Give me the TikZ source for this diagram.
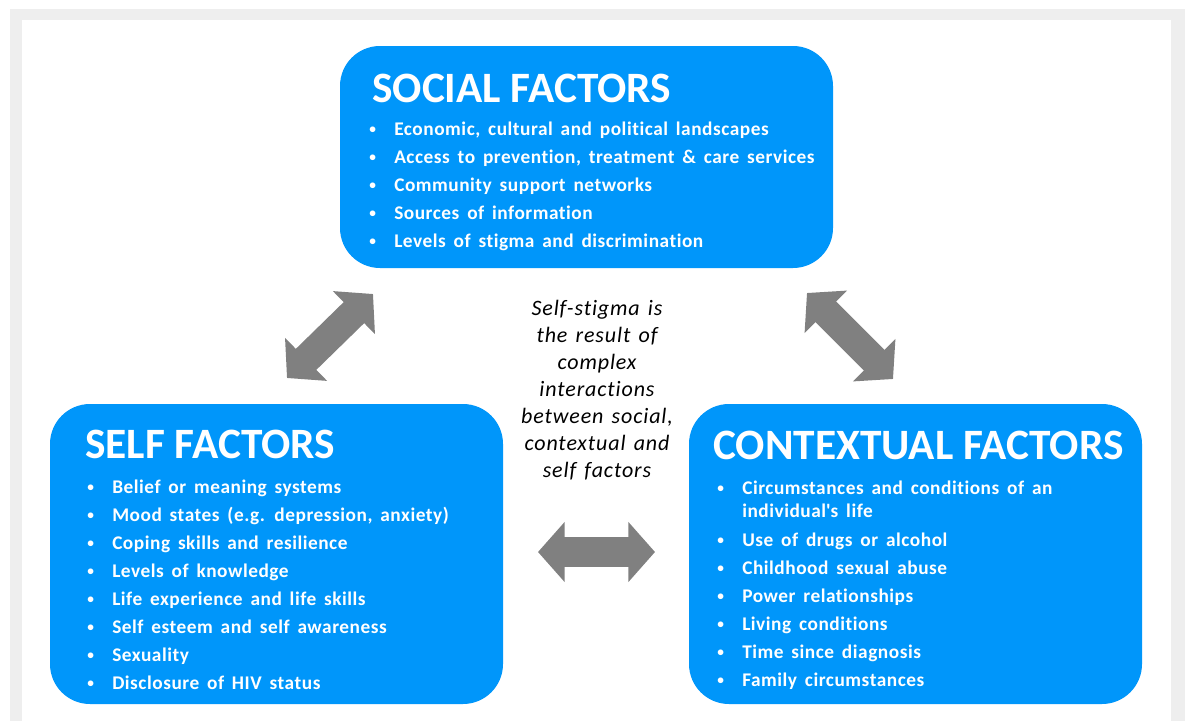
\documentclass[tikz,border=0pt]{standalone}
\usepackage{fontspec}
\setmainfont{Carlito}[Ligatures=NoCommon]
\newfontfamily\listfont{Carlito}[Ligatures=NoCommon, LetterSpace=2.7, WordSpace=1.6]
\newfontfamily\notefont{Carlito}[Ligatures=NoCommon, LetterSpace=4, WordSpace=1.4]
\usetikzlibrary{arrows.meta,positioning}

\definecolor{factorblue}{RGB}{0,150,250}
\definecolor{arrowgray}{RGB}{128,128,128}
\definecolor{framegray}{RGB}{238,238,238}
\newcommand{\bul}{\makebox[18.75pt][l]{\raisebox{0.9pt}{\fontsize{10}{10}\selectfont\textbullet}}}

\begin{document}
\begin{tikzpicture}[
            x=0.75pt, y=-0.75pt,
            >={Triangle[width=44pt,length=20pt]},
            factorbox/.style={rectangle, rounded corners=30pt, fill=factorblue, inner sep=0pt},
            heading/.style={anchor=base west, inner sep=0pt, text=white, font=\fontsize{32.5}{32.5}\selectfont\bfseries},
            item/.style={anchor=base west, inner sep=0pt, text=white, font=\listfont\fontsize{14.5}{16}\selectfont\bfseries},
            note/.style={align=center, inner sep=0pt, font=\notefont\fontsize{16.5}{20.25}\selectfont\itshape},
            twoway/.style={<->, arrowgray, line width=22pt}
        ]
        \useasboundingbox (0,0) rectangle (1185,721);

        % Frame
        \fill[framegray] (10,9) rectangle (1185,721);
        \fill[white] (22,20) rectangle (1171,721);

        % Boxes
        \node[factorbox, minimum width=369.75pt, minimum height=166.5pt] (social) at (586.5,157) {};
        \node[factorbox, minimum width=339.75pt, minimum height=225pt] (self) at (276.5,554) {};
        \node[factorbox, minimum width=339.75pt, minimum height=225pt] (context) at (915.5,554) {};

        % Headings
        \node[heading] (social-title) at (372,102) {SOCIAL FACTORS};
        \node[heading] (self-title) at (85,458) {SELF FACTORS};
        \node[heading] (context-title) at (713,459) {CONTEXTUAL FACTORS};

        % Lists
        \foreach \txt [count=\i from 0] in {{Economic, cultural and political landscapes},
            Access to prevention{,} treatment \& care services,
            Community support networks, Sources of information,
            Levels of stigma and discrimination}
          \node[item] (social-\i) at (369,135+28*\i) {\bul\txt};

        \foreach \txt [count=\i from 0] in {Belief or meaning systems,
            {Mood states (e.g. depression, anxiety)},
            Coping skills and resilience, Levels of knowledge,
            Life experience and life skills, Self esteem and self awareness,
            Sexuality, Disclosure of HIV status}
          \node[item] (self-\i) at (87,493+28*\i) {\bul\txt};

        \node[item] (context-0) at (717,494) {\bul Circumstances and conditions of an};
        \node[item] (context-0b) at (742,517) {individual\textquotesingle s life};
        \foreach \txt [count=\i from 1] in {Use of drugs or alcohol,
            Childhood sexual abuse, Power relationships, Living conditions,
            Time since diagnosis, Family circumstances}
          \node[item] (context-\i) at (717,518+28*\i) {\bul\txt};

        % Centre note
        \node[note] (note) at (597,390) {Self-stigma is\\the result of\\complex\\interactions\\between social,\\contextual and\\self factors};

        % Two-way arrows
        \coordinate (ss-a) at (287,378);
        \coordinate (ss-b) at (373,294);
        \coordinate (sc-a) at (807,293);
        \coordinate (sc-b) at (893,379);
        \coordinate (xc-a) at (538,552);
        \coordinate (xc-b) at (655,552);
        \draw[twoway] (ss-a) -- (ss-b);
        \draw[twoway] (sc-a) -- (sc-b);
        \draw[twoway] (xc-a) -- (xc-b);

\end{tikzpicture}
\end{document}
